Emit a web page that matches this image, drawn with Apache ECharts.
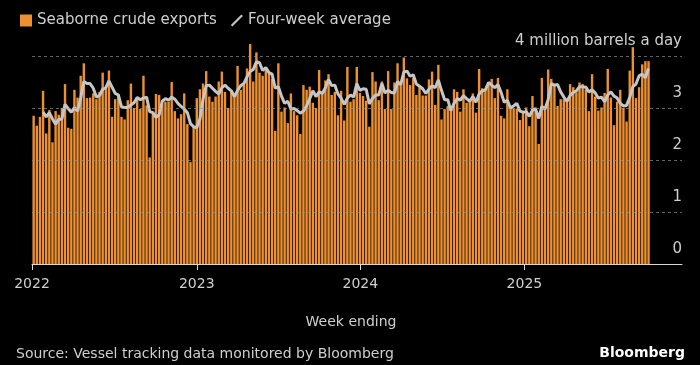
<!DOCTYPE html>
<html>
<head>
<meta charset="utf-8">
<script src="https://cdn.jsdelivr.net/npm/echarts@6/dist/echarts.min.js"></script>
<style>
html,body{margin:0;padding:0;background:#000;}
#chart{width:700px;height:365px;}
</style>
</head>
<body>
<div id="chart"></div>
<script>
// Weekly seaborne crude exports (million barrels a day), week ending, from first week of 2022
const firstWeek = [2022, 0, 2];
const exportsWeekly = [
 2.85,2.66,2.83,3.33,2.51,2.96,2.34,2.94,2.87,3.00,
 3.46,2.62,2.60,3.35,3.20,3.62,3.86,3.19,3.20,3.28,
 3.17,3.31,3.68,3.38,3.72,2.83,3.17,3.26,2.83,2.78,
 3.15,3.47,3.00,3.17,2.98,3.62,3.05,2.05,2.90,3.27,
 3.25,3.09,3.12,3.12,3.50,2.94,2.80,2.88,3.28,2.69,
 1.96,2.64,3.19,3.36,3.47,3.71,3.22,3.12,3.22,3.51,
 3.70,3.31,3.00,3.31,3.25,3.81,3.35,3.47,3.76,4.23,
 3.51,4.07,3.68,3.62,3.73,3.67,3.56,2.56,3.86,2.93,
 3.01,2.71,3.28,2.94,2.86,2.50,3.44,3.35,3.41,3.10,
 3.00,3.73,3.28,3.53,3.65,3.25,3.31,2.86,3.33,2.76,
 3.79,3.12,3.17,3.79,3.29,3.23,3.14,2.64,3.69,3.51,
 3.15,3.51,2.98,3.71,2.98,3.49,3.86,3.45,3.97,3.57,
 3.44,3.58,3.25,3.40,3.24,3.24,3.55,3.70,3.06,3.83,
 2.78,2.98,3.04,2.99,3.36,3.31,2.93,3.36,3.10,3.14,
 3.28,2.91,3.75,3.38,3.35,3.46,3.56,3.19,3.58,2.85,
 2.80,3.36,3.00,2.99,2.99,2.77,2.93,3.01,2.65,3.23,
 3.01,2.31,3.58,3.00,3.74,3.56,3.46,3.04,3.17,3.17,
 3.15,3.46,3.40,3.30,3.49,3.46,3.36,2.94,3.65,3.22,
 2.95,3.01,3.29,3.75,3.20,2.67,3.12,3.35,3.00,2.74,
 3.72,4.17,3.19,3.40,3.84,3.90,3.90
];
const fourWeekAverage = [
 null,null,null,2.92,2.83,2.91,2.79,2.69,2.78,2.79,
 3.07,2.99,2.92,3.01,2.94,3.19,3.51,3.47,3.47,3.38,
 3.21,3.24,3.36,3.39,3.52,3.40,3.28,3.25,3.02,3.01,
 3.01,3.06,3.10,3.20,3.16,3.19,3.21,2.93,2.91,2.82,
 2.87,3.13,3.18,3.15,3.21,3.17,3.09,3.03,2.98,2.91,
 2.70,2.64,2.62,2.79,3.17,3.43,3.44,3.38,3.32,3.27,
 3.39,3.44,3.38,3.33,3.22,3.34,3.43,3.47,3.60,3.70,
 3.74,3.89,3.87,3.72,3.78,3.68,3.65,3.38,3.41,3.23,
 3.09,3.13,2.98,2.99,2.95,2.90,2.94,3.04,3.18,3.33,
 3.22,3.31,3.28,3.39,3.55,3.43,3.44,3.27,3.19,3.07,
 3.19,3.25,3.21,3.47,3.34,3.37,3.36,3.08,3.18,3.25,
 3.25,3.47,3.29,3.34,3.30,3.29,3.51,3.45,3.69,3.71,
 3.61,3.64,3.46,3.42,3.37,3.28,3.36,3.43,3.39,3.54,
 3.34,3.16,3.16,2.95,3.09,3.18,3.15,3.24,3.18,3.13,
 3.22,3.11,3.27,3.33,3.35,3.49,3.44,3.39,3.45,3.30,
 3.11,3.15,3.00,3.04,3.09,2.94,2.92,2.93,2.84,2.96,
 2.98,2.80,3.03,2.98,3.16,3.47,3.44,3.45,3.31,3.21,
 3.13,3.24,3.30,3.33,3.41,3.41,3.40,3.31,3.35,3.29,
 3.19,3.21,3.12,3.25,3.31,3.23,3.19,3.09,3.04,3.05,
 3.20,3.41,3.46,3.62,3.65,3.58,3.76
];
const yTicks = [0, 1, 2, 3, 4];
const unitLabel = '4 million barrels a day';

const weekDates = exportsWeekly.map((_, i) =>
  new Date(firstWeek[0], firstWeek[1], firstWeek[2] + 7 * i).getTime());
const barData = exportsWeekly.map((v, i) => [weekDates[i], v]);
const lineData = fourWeekAverage.map((v, i) => [weekDates[i], v]);

const txt = '#cfcfcf';
const font = 'DejaVu Sans';
const DAY = 24 * 3600 * 1000;

const chart = echarts.init(document.getElementById('chart'), null, {renderer: 'canvas'});
chart.setOption({
  backgroundColor: '#000',
  animation: false,
  textStyle: {fontFamily: font},
  legend: {
    left: 15, top: 8,
    itemWidth: 12, itemHeight: 12, itemGap: 14,
    textStyle: {color: txt, fontSize: 15, fontFamily: font},
    data: [
      {name: 'Seaborne crude exports', icon: 'rect'},
      {name: 'Four-week average', icon: 'path://M0,10.5 L10.5,0 L12,1.5 L1.5,12 Z'}
    ],
    selectedMode: false
  },
  title: [
    {text: 'Week ending', left: 346, top: 310, textAlign: 'center',
     textStyle: {color: txt, fontSize: 14, fontWeight: 'normal', fontFamily: font}},
    {text: 'Source: Vessel tracking data monitored by Bloomberg', left: 11, top: 342,
     textStyle: {color: txt, fontSize: 14, fontWeight: 'normal', fontFamily: font}},
    {text: 'Bloomberg', right: 10, top: 341,
     textStyle: {color: '#ffffff', fontSize: 14, fontWeight: 'bold', fontFamily: font}}
  ],
  grid: {left: 32, right: 18, top: 35.2, bottom: 101, containLabel: false},
  xAxis: {
    type: 'time',
    min: new Date(2022, 0, 1).getTime(),
    max: new Date(2025, 11, 16).getTime(),
    minInterval: 365 * DAY,
    splitNumber: 4,
    axisLine: {show: true, lineStyle: {color: '#d8d8d8', width: 1}},
    axisTick: {show: true, length: 6, lineStyle: {color: '#d8d8d8'}},
    minorTick: {show: false},
    splitLine: {show: false},
    axisLabel: {
      color: txt, fontSize: 14, fontFamily: font, margin: 13,
      formatter: (v) => String(new Date(v + 3 * DAY).getFullYear()),
      showMinLabel: true, showMaxLabel: false
    }
  },
  yAxis: {
    type: 'value', position: 'right', min: 0, max: 4.4, interval: 1,
    axisLine: {show: false}, axisTick: {show: false}, splitLine: {show: false},
    axisLabel: {
      inside: true, margin: 0, align: 'right', verticalAlign: 'bottom',
      padding: [0, 0, 7, 0],
      color: txt, fontSize: 15, fontFamily: font,
      formatter: (v) => yTicks.indexOf(v) < 0 ? '' : (v === 4 ? unitLabel : String(v))
    }
  },
  series: [
    {
      name: 'Seaborne crude exports', type: 'bar', data: barData,
      barWidth: 2.4, itemStyle: {color: '#ec9030'}, silent: true
    },
    {
      name: 'Four-week average', type: 'line', data: lineData,
      showSymbol: false, symbol: 'none', connectNulls: false,
      lineStyle: {color: '#c6c6c6', width: 3}, itemStyle: {color: '#c6c6c6'},
      silent: true, z: 4,
      markLine: {
        silent: true, symbol: ['none', 'none'], label: {show: false},
        lineStyle: {type: [3, 3], color: 'rgba(150,150,150,0.65)', width: 1},
        data: [{yAxis: 1}, {yAxis: 2}, {yAxis: 3}, {yAxis: 4}]
      }
    }
  ]
});
</script>
</body>
</html>
